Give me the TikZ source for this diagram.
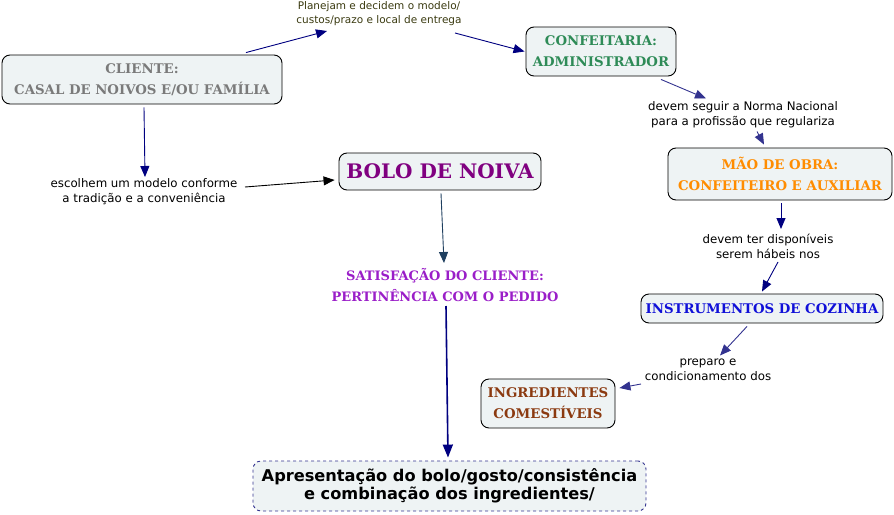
\documentclass[tikz,border=0pt]{standalone}
\usepackage{fontspec}
\usetikzlibrary{arrows.meta,calc}
\newfontfamily\lblfont{DejaVu Sans}
\newfontfamily\dispfont{DejaVu Serif}
\definecolor{boxfill}{HTML}{EEF3F4}
\definecolor{cgray}{HTML}{7A7A7A}
\definecolor{cgreen}{HTML}{2E8B57}
\definecolor{corange}{HTML}{FF8C00}
\definecolor{cblue}{HTML}{1010D8}
\definecolor{cbrown}{HTML}{8B3A10}
\definecolor{cpurple}{HTML}{800080}
\definecolor{cviolet}{HTML}{9A1EC8}
\definecolor{colive}{HTML}{3A3A10}
\definecolor{navy}{HTML}{000080}
\definecolor{slateblue}{HTML}{33338F}
\definecolor{darkslate}{HTML}{1F3F5F}
\begin{document}
\begin{tikzpicture}[x=1pt,y=-1pt,
  cbox/.style={draw=black, rounded corners=8pt, fill=boxfill, line width=0.9pt, align=center, inner sep=0pt},
  disp/.style={font=\dispfont\bfseries\fontsize{13.3}{21}\selectfont},
  lbl/.style={font=\lblfont\fontsize{11.8}{15}\selectfont, align=center, inner sep=0pt, text=black},
  arr/.style={-{Triangle[length=11pt,width=9pt]}, line width=0.9pt, draw=navy},
  arrs/.style={-{Triangle[length=11pt,width=9pt]}, line width=0.9pt, draw=slateblue}]
\useasboundingbox (0,0) rectangle (894,514);
% boxes
\node[cbox, disp, text=cgray, minimum width=280pt, minimum height=49pt] (cliente) at (142,79.5) {CLIENTE:\\CASAL DE NOIVOS E/OU FAMÍLIA};
\node[cbox, disp, text=cgreen, minimum width=150pt, minimum height=49pt] (conf) at (601,51.5) {CONFEITARIA:\\ADMINISTRADOR};
\node[cbox, disp, text=corange, minimum width=224pt, minimum height=52pt] (mao) at (780,174) {MÃO DE OBRA:\\CONFEITEIRO E AUXILIAR};
\node[cbox, disp, text=cblue, minimum width=242pt, minimum height=29pt] (instr) at (762,308.5) {INSTRUMENTOS DE COZINHA};
\node[cbox, disp, text=cbrown, minimum width=134pt, minimum height=49pt] (ingr) at (548,403.5) {INGREDIENTES\\COMESTÍVEIS};
\node[cbox, font=\dispfont\bfseries\fontsize{20}{22}\selectfont, text=cpurple, minimum width=202pt, minimum height=37pt] (bolo) at (440,171.5) {BOLO DE NOIVA};
\node[font=\dispfont\bfseries\fontsize{13}{21}\selectfont, text=cviolet, align=center, inner sep=0pt] (satisf) at (445,285.5) {SATISFAÇÃO DO CLIENTE:\\PERTINÊNCIA COM O PEDIDO};
\node[cbox, dashed, draw=slateblue, font=\lblfont\bfseries\fontsize{16.2}{18.5}\selectfont, minimum width=393pt, minimum height=50pt] (apres) at (449.5,486) {Apresentação do bolo/gosto/consistência\\e combinação dos ingredientes/};
% labels
\node[lbl, text=colive, font=\lblfont\fontsize{10.5}{14}\selectfont] (l1) at (379,14) {Planejam e decidem o modelo/\\custos/prazo e local de entrega};
\node[lbl] (l2) at (743,114.5) {devem seguir a Norma Nacional\\para a profissão que regulariza};
\node[lbl] (l3) at (768,246) {devem ter disponíveis\\serem hábeis nos};
\node[lbl] (l4) at (708,369.5) {preparo e\\condicionamento dos};
\node[lbl] (l5) at (144,192) {escolhem um modelo conforme\\a tradição e a conveniência};
% connectors
\draw[arr] ($(cliente.north)+(104,-2)$) -- ($(l1.center)+(-52,17)$);
\draw[arr] ($(l1.center)+(76,19)$) -- ($(conf.west)+(-1,0)$);
\draw[arrs] ($(conf.south)+(60,3)$) -- ($(l2.center)+(-37,-16)$);
\draw[arrs] ($(l2.center)+(14,17)$) -- ($(mao.north)+(-16,-3)$);
\draw[arr] ($(mao.south)+(1,3)$) -- ($(l3.center)+(13,-17)$);
\draw[arr] ($(l3.center)+(10,16)$) -- ($(instr.north)+(0,-2)$);
\draw[arrs] ($(instr.south)+(-15,3)$) -- ($(l4.center)+(12,-14)$);
\draw[arrs] ($(l4.center)+(-67,14.5)$) -- ($(ingr.east)+(4,-15.5)$);
\draw[arr] ($(cliente.south)+(2,3)$) -- ($(l5.center)+(1,-15)$);
\draw[arr, draw=black] ($(l5.center)+(101,-5)$) -- ($(bolo.west)+(-4,8.5)$);
\draw[arr, draw=darkslate] ($(bolo.south)+(1,3)$) -- ($(satisf.center)+(-1,-22.5)$);
\draw[arr, line width=1.6pt, -{Triangle[length=13pt,width=10pt]}] ($(satisf.center)+(1,20.5)$) -- ($(apres.north)+(-1.5,-3)$);
\end{tikzpicture}
\end{document}
